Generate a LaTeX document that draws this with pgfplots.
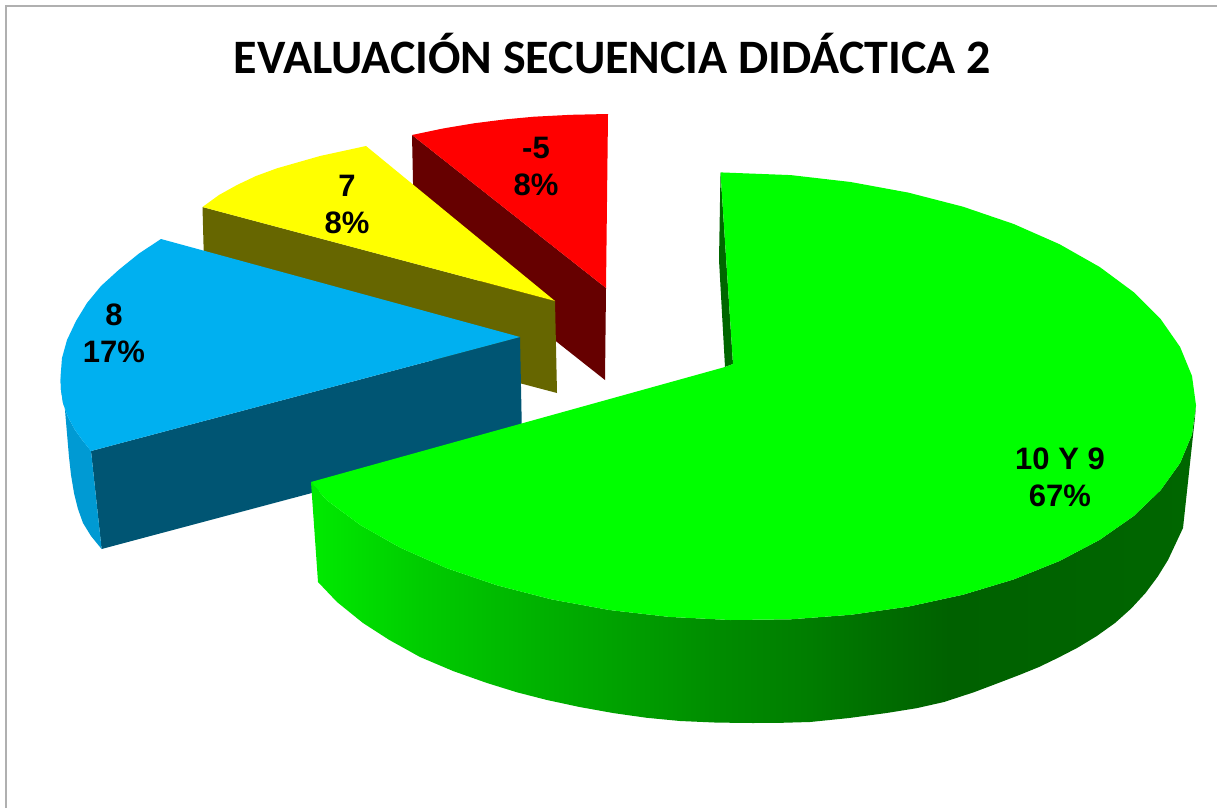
\documentclass[border=0pt]{standalone}
\usepackage{pgfplots}
\pgfplotsset{compat=1.18}
\usepackage{fontspec}
\setmainfont{Liberation Sans}
\newfontfamily\titlefont{Carlito}
\definecolor{gTop}{HTML}{00FF00}
\definecolor{gDark}{HTML}{006600}
\definecolor{bTop}{HTML}{00B0F0}
\definecolor{bDark}{HTML}{005573}
\definecolor{bCurve}{HTML}{009AD3}
\definecolor{yTop}{HTML}{FFFF00}
\definecolor{yDark}{HTML}{666600}
\definecolor{rTop}{HTML}{FF0000}
\definecolor{rDark}{HTML}{660000}
\definecolor{frameC}{HTML}{B0B0B0}
\pgfdeclarehorizontalshading{greenside}{100bp}{
  rgb(0bp)=(0,0.92,0);
  rgb(25bp)=(0,0.92,0);
  rgb(31.2bp)=(0,0.80,0);
  rgb(38.3bp)=(0,0.69,0);
  rgb(42.5bp)=(0,0.63,0);
  rgb(47.8bp)=(0,0.55,0);
  rgb(53.2bp)=(0,0.49,0);
  rgb(57.1bp)=(0,0.43,0);
  rgb(61.1bp)=(0,0.38,0);
  rgb(75bp)=(0,0.40,0);
  rgb(100bp)=(0,0.40,0)}
\tikzset{lab/.style={font=\bfseries\fontsize{31}{37}\selectfont, align=center, inner sep=0pt}}
\begin{document}
\begin{tikzpicture}
\path[use as bounding box] (0,0) rectangle (1217pt,808pt);
\begin{axis}[
  at={(0,0)}, anchor=south west,
  scale only axis, width=1217pt, height=808pt,
  xmin=0, xmax=1217, ymin=0, ymax=808, y dir=reverse,
  axis lines=none, clip=true,
]
% frame
\addplot[frameC, line width=2pt, no marks] coordinates {(5.5,808) (5.5,6.5) (1217,6.5)};
% red slice
\addplot[fill=rDark, draw=none, no marks] coordinates {(412,135) (606,288) (605,380) (414,229)};
\addplot[fill=rTop, draw=none, no marks] coordinates {(412,135) (443,128.5) (474,123.3) (504,119.5) (534,116.7) (571,114.8) (608,114) (606,288)};
% yellow slice
\addplot[fill=yDark, draw=none, no marks] coordinates {(202.5,207) (555,301) (557,393) (205,300)};
\addplot[fill=yTop, draw=none, no marks] coordinates {(366,146) (320,156) (277,168.3) (256,176) (237,185) (219,195) (202.5,207) (555,301)};
% blue slice
\addplot[fill=bDark, draw=none, no marks] coordinates {(91,451) (520,337) (522,437) (101.6,549)};
\addplot[fill=bCurve, draw=none, no marks] coordinates {(60.5,377) (61,390) (63,403) (68,417) (75,430) (83,441) (91,451) (101.6,549) (91,536) (83,523) (78,509) (74,493) (71,475) (69,457) (65,410)};
\addplot[fill=bTop, draw=none, no marks] coordinates {(161,239) (139,253.5) (118.6,270) (101,286) (87,303) (76,321) (67,340) (62,358) (60.5,377) (61,390) (63,403) (68,417) (75,430) (83,441) (91,451) (520,337)};
% green slice
\addplot[fill=gDark, draw=none, no marks] coordinates {(720.5,172.7) (719,260) (725,367) (733,364)};
\addplot[shade, shading=greenside, draw=none, no marks] coordinates {
 (311,482) (318,582) (337,602) (363,623) (388.9,639.7) (420,657) (453.3,671.1) (487,683) (517,692.3) (547,700) (579.6,707)
 (613,713) (646,717.7) (680,721) (717,722.6) (753,723) (781.5,722.8) (810,722) (848.3,718.1) (886.6,713) (916.5,708.2) (944,702)
 (973.7,692.3) (1001,682) (1020,674.7) (1039,667) (1058,657.8) (1077,648) (1096.5,636.2) (1115,623) (1131.2,608.5) (1145.5,593)
 (1157.7,576.6) (1168,560) (1183,528) (1195,417) (1196,405.3)
 (1192,434.4) (1180.1,463) (1160.5,490.3) (1133.6,516.1) (1099.7,539.8) (1059.5,561) (1013.7,579.4) (963,594.7) (908.3,606.6)
 (850.6,614.8) (790.8,619.3) (730,620) (669.2,616.9) (609.4,610) (551.7,599.4) (497,585.3) (446.3,568) (400.5,547.8) (360.3,525) (326.4,499.9)};
\addplot[fill=gTop, draw=none, no marks] coordinates {
 (733,364) (720.5,172.4) (790.8,175.1) (850.6,182) (908.3,192.6) (963,206.7) (1013.7,224) (1059.5,244.2) (1099.7,267) (1133.6,292.1)
 (1160.5,318.9) (1180.1,347) (1192,376) (1196,405.3)
 (1192,434.4) (1180.1,463) (1160.5,490.3) (1133.6,516.1) (1099.7,539.8) (1059.5,561) (1013.7,579.4) (963,594.7) (908.3,606.6)
 (850.6,614.8) (790.8,619.3) (730,620) (669.2,616.9) (609.4,610) (551.7,599.4) (497,585.3) (446.3,568) (400.5,547.8) (360.3,525) (326.4,499.9)
 (311,482) (725,367)};
% texts
\node[font=\titlefont\bfseries\fontsize{48}{56}\selectfont, inner sep=0pt] at (axis cs:612.5,54) {EVALUACIÓN SECUENCIA DIDÁCTICA 2};
\node[lab] at (axis cs:536,166) {-5\\8\%};
\node[lab] at (axis cs:347,204) {7\\8\%};
\node[lab] at (axis cs:114,333) {8\\17\%};
\node[lab] at (axis cs:1060,477) {10 Y 9\\67\%};
\end{axis}
\end{tikzpicture}
\end{document}
